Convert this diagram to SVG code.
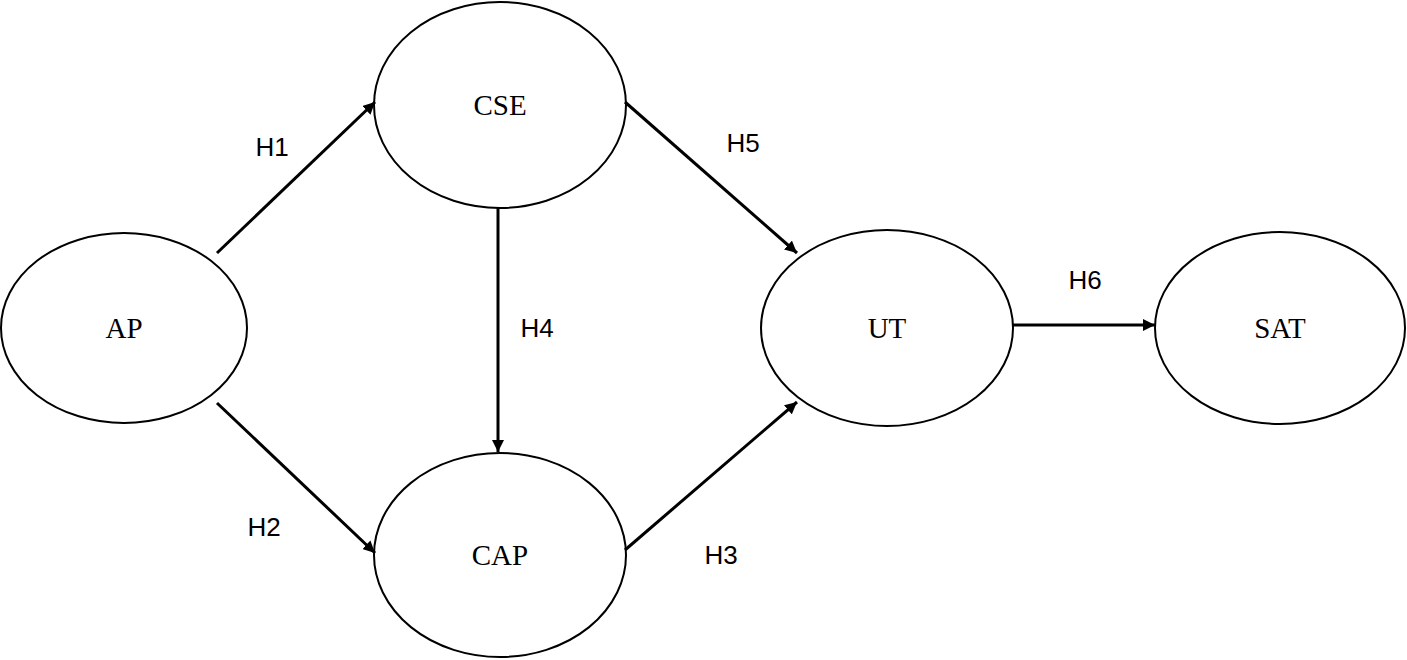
<svg xmlns="http://www.w3.org/2000/svg" width="1407" height="660" viewBox="0 0 1407 660">
<style>
.n{fill:#fff;stroke:#000;stroke-width:2}
.t{font-family:"Liberation Serif",serif;font-size:29px;text-anchor:middle;dominant-baseline:central}
.h{font-family:"Liberation Sans",sans-serif;font-size:26px;text-anchor:middle;dominant-baseline:central}
.c{stroke:#000;stroke-width:3;fill:none;marker-end:url(#a)}
</style>
<defs><marker id="a" viewBox="0 0 10 10" refX="10" refY="5" markerWidth="4" markerHeight="4" orient="auto"><path d="M0,0L10,5L0,10z"/></marker></defs>
<rect width="1407" height="660" fill="#fff"/>
<g id="AP"><ellipse class="n" cx="124" cy="328" rx="123" ry="95"/><text class="t" x="124" y="328">AP</text></g>
<g id="CSE"><ellipse class="n" cx="500" cy="105" rx="126" ry="103"/><text class="t" x="500" y="105">CSE</text></g>
<g id="CAP"><ellipse class="n" cx="500" cy="555" rx="126" ry="102"/><text class="t" x="500" y="555">CAP</text></g>
<g id="UT"><ellipse class="n" cx="887" cy="328" rx="126" ry="98"/><text class="t" x="887" y="328">UT</text></g>
<g id="SAT"><ellipse class="n" cx="1280" cy="328" rx="125" ry="96"/><text class="t" x="1280" y="328">SAT</text></g>
<g id="connectors">
<line class="c" x1="217" y1="253" x2="375" y2="102"/>
<line class="c" x1="217" y1="403" x2="375" y2="553"/>
<line class="c" x1="498" y1="208" x2="498" y2="452"/>
<line class="c" x1="625" y1="102" x2="797" y2="253"/>
<line class="c" x1="625" y1="550" x2="797" y2="402"/>
<line class="c" x1="1013" y1="325" x2="1155" y2="325"/>
</g>
<g id="labels">
<text class="h" x="272" y="147">H1</text>
<text class="h" x="264" y="527">H2</text>
<text class="h" x="537" y="328">H4</text>
<text class="h" x="743" y="143">H5</text>
<text class="h" x="721" y="555">H3</text>
<text class="h" x="1085" y="280">H6</text>
</g>
</svg>
